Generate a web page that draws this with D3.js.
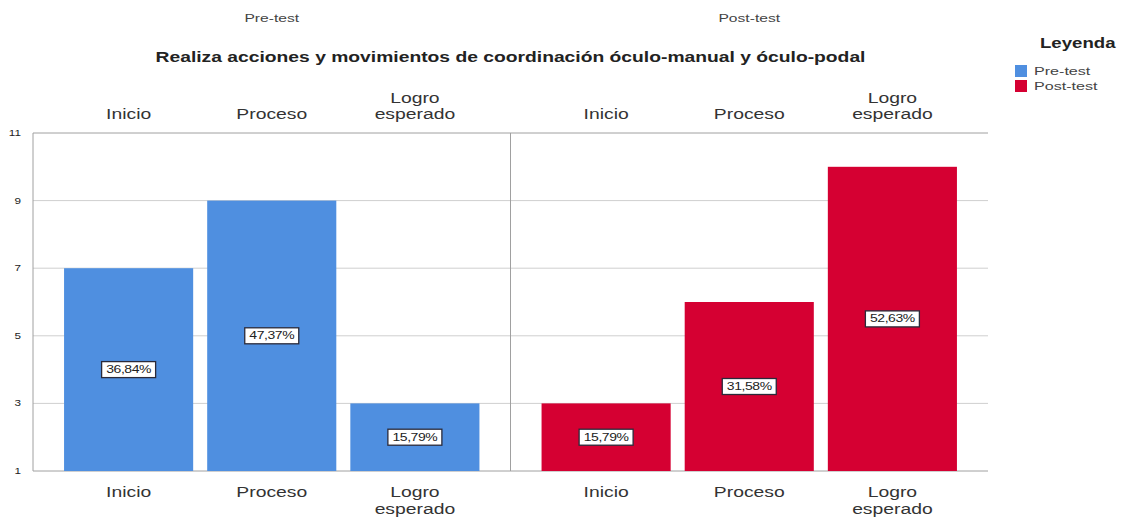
<!DOCTYPE html>
<html>
<head>
<meta charset="utf-8">
<script src="https://cdn.jsdelivr.net/npm/d3@7"></script>
<style>
  body { margin: 0; background: #fff; }
  svg { font-family: "Liberation Sans", Arial, sans-serif; display: block; }
  .cat { fill: #333; font-size: 14px; }
  .tick-label { fill: #222; font-size: 9px; }
</style>
</head>
<body>
<svg width="1128" height="522"></svg>
<script>
const groups = ["Pre-test", "Post-test"];
const categories = ["Inicio", "Proceso", "Logro esperado"];
const preValues = [7, 9, 3];
const postValues = [3, 6, 10];
const preLabels = ["36,84%", "47,37%", "15,79%"];
const postLabels = ["15,79%", "31,58%", "52,63%"];
const yTicks = [1, 3, 5, 7, 9, 11];
const colors = ["#4f8fe0", "#d50032"];
const title = "Realiza acciones y movimientos de coordinación óculo-manual y óculo-podal";

const svg = d3.select("svg");
const plot = { left: 33, right: 988, top: 133, bottom: 471 };
const mid = (plot.left + plot.right) / 2;
// the original text is drawn wide, so text gets stretched horizontally
const SX = 1.38;

// text placed at (x, y) and stretched by sx along x
const stext = (parent, x, y, txt, sx = SX) =>
  parent.append("text")
    .attr("transform", `translate(${x},${y}) scale(${sx},1)`)
    .text(txt);

const y = d3.scaleLinear().domain([1, 11]).range([plot.bottom, plot.top]);
const xGroup = d3.scaleBand().domain(groups).range([plot.left, plot.right]);
const xCat = d3.scaleBand()
  .domain(categories)
  .range([0, xGroup.bandwidth()])
  .paddingInner(0.098)
  .paddingOuter(0.217);

// gridlines
svg.append("g")
  .selectAll("line")
  .data(yTicks.filter((d) => d > 1 && d < 11))
  .enter()
  .append("line")
  .attr("x1", plot.left)
  .attr("x2", plot.right)
  .attr("y1", (d) => y(d))
  .attr("y2", (d) => y(d))
  .attr("stroke", "#cfcfcf")
  .attr("stroke-width", 1);

// frame
svg.append("line").attr("x1", plot.left).attr("x2", plot.right)
  .attr("y1", plot.top).attr("y2", plot.top).attr("stroke", "#a0a0a0");
svg.append("line").attr("x1", plot.left).attr("x2", plot.right)
  .attr("y1", plot.bottom).attr("y2", plot.bottom).attr("stroke", "#a0a0a0");
svg.append("line").attr("x1", plot.left).attr("x2", plot.left)
  .attr("y1", plot.top).attr("y2", plot.bottom).attr("stroke", "#a0a0a0");
svg.append("line").attr("x1", mid).attr("x2", mid)
  .attr("y1", plot.top).attr("y2", plot.bottom).attr("stroke", "#a0a0a0");

// y axis labels
const yAxisG = svg.append("g");
yTicks.forEach((d) => {
  stext(yAxisG, 21, y(d) + 3, d, 1.3)
    .attr("class", "tick-label")
    .attr("text-anchor", "end");
});

const series = [
  { group: "Pre-test", values: preValues, labels: preLabels, color: colors[0] },
  { group: "Post-test", values: postValues, labels: postLabels, color: colors[1] },
];

series.forEach((s) => {
  const g = svg.append("g")
    .attr("transform", `translate(${xGroup(s.group)},0)`);
  const data = categories.map((c, i) => ({ cat: c, v: s.values[i], label: s.labels[i] }));

  g.selectAll("rect.bar")
    .data(data)
    .enter()
    .append("rect")
    .attr("class", "bar")
    .attr("x", (d) => xCat(d.cat))
    .attr("width", xCat.bandwidth())
    .attr("y", (d) => y(d.v))
    .attr("height", (d) => y(1) - y(d.v))
    .attr("fill", s.color);

  // value labels
  data.forEach((d) => {
    const lab = g.append("g")
      .attr("transform",
        `translate(${xCat(d.cat) + xCat.bandwidth() / 2},${y((1 + d.v) / 2)})`);
    lab.append("rect")
      .attr("x", -27).attr("y", -8).attr("width", 54).attr("height", 16)
      .attr("fill", "#fff").attr("stroke", "#2a2a3a").attr("stroke-width", 1.3);
    stext(lab, 0, 3.5, d.label, 1.4)
      .attr("text-anchor", "middle")
      .attr("font-size", 10)
      .attr("letter-spacing", -0.3)
      .attr("fill", "#222");
  });

  // category labels top and bottom
  const catLabel = (yBase, topAligned) => {
    data.forEach((d) => {
      const words = d.cat === "Logro esperado" ? ["Logro", "esperado"] : [d.cat];
      const cx = xGroup(s.group) + xCat(d.cat) + xCat.bandwidth() / 2;
      words.forEach((w, i) => {
        const yy = topAligned
          ? yBase - (words.length - 1 - i) * 16
          : yBase + i * 17;
        stext(svg, cx, yy, w)
          .attr("class", "cat")
          .attr("text-anchor", "middle");
      });
    });
  };
  catLabel(119, true);
  catLabel(497, false);

  // group header
  stext(svg, xGroup(s.group) + xGroup.bandwidth() / 2, 22, s.group, 1.42)
    .attr("text-anchor", "middle")
    .attr("font-size", 11)
    .attr("fill", "#444");
});

// title
stext(svg, mid, 62, title, 1.33)
  .attr("text-anchor", "middle")
  .attr("font-size", 14.5)
  .attr("font-weight", "bold")
  .attr("fill", "#222");

// legend
const legend = svg.append("g").attr("transform", "translate(1015,0)");
stext(legend, 25, 48, "Leyenda", 1.33)
  .attr("font-size", 14).attr("font-weight", "bold").attr("fill", "#222");
groups.forEach((gname, i) => {
  legend.append("rect")
    .attr("x", 0).attr("y", 65 + i * 15)
    .attr("width", 12).attr("height", 12)
    .attr("fill", colors[i]);
  stext(legend, 19, 75 + i * 15, gname, 1.4)
    .attr("font-size", 11.5).attr("fill", "#444");
});
</script>
</body>
</html>
